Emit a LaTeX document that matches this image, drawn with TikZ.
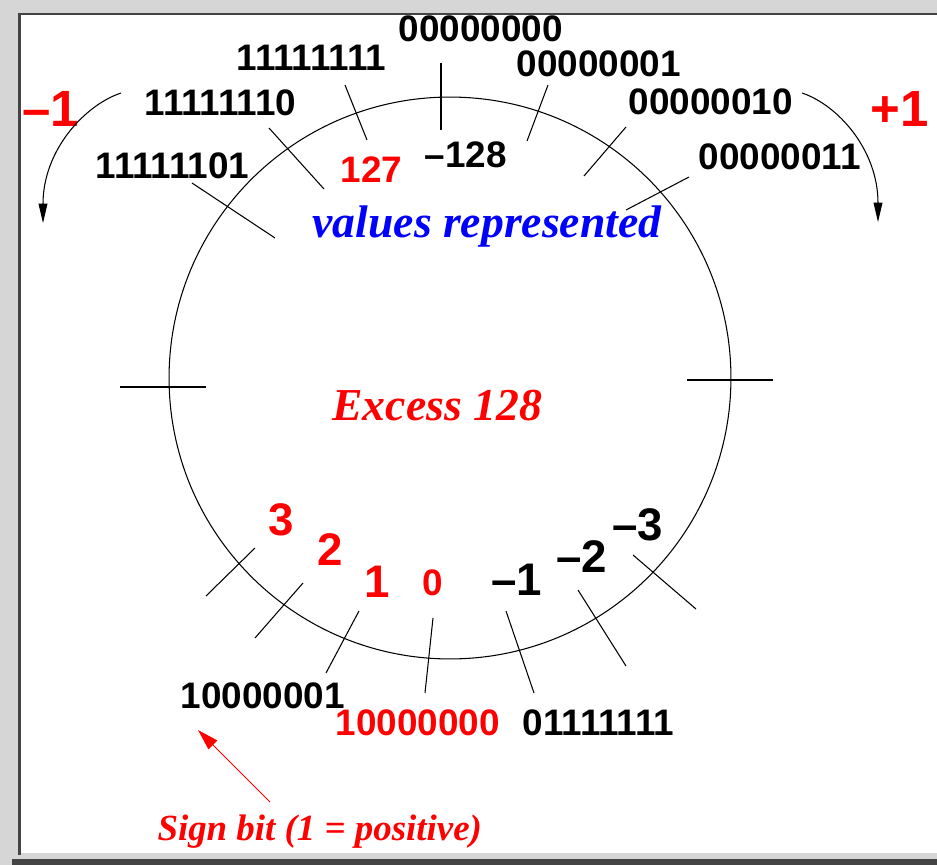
\documentclass[tikz,border=0pt]{standalone}
\usepackage{fontspec}
\usepackage{tikz}
\usetikzlibrary{arrows.meta}
\newfontfamily\digitfont{Liberation Sans}
\newfontfamily\notefont{Liberation Serif}
\definecolor{framegray}{HTML}{D6D6D6}
\definecolor{framedark}{HTML}{444444}

\begin{document}
\begin{tikzpicture}[x=0.02cm, y=-0.02cm, line width=0.6pt,
    bin/.style={font=\digitfont\bfseries\fontsize{21}{24}\selectfont, inner sep=0pt, anchor=base west},
    big/.style={font=\digitfont\bfseries\fontsize{26}{30}\selectfont, inner sep=0pt, anchor=base},
    note/.style={font=\notefont\bfseries\itshape\fontsize{26}{30}\selectfont, inner sep=0pt, anchor=base west},
    tick/.style={black, line width=0.6pt}]
    \useasboundingbox (0,0) rectangle (937,865);
    \fill[framegray] (0,0) rectangle (937,865);
    \fill[white] (21,15.5) rectangle (937,853);
    \fill[framedark] (18,13) rectangle (937,15.5);
    \fill[framedark] (18,13) rectangle (21,855);
    \fill[framedark] (12,859) rectangle (937,865);

    \node[circle, minimum size=11.24cm, draw, line width=0.6pt, inner sep=0pt] (wheel) at (450,378) {};

    \foreach \xa/\ya/\xb/\yb in {441/63/441/130, 345/85/367/140, 269/128/324/189, 192/183/275/238,
                       548/85/527/141, 626/127/584/176, 689/177/626/210,
                       120/387/206/387, 687/380/773/380,
                       255/548/206/596, 303/583/255/638, 359/611/326/673, 433/618/425/693,
                       506/611/534/693, 578/590/626/666, 633/555/696/609}
        \draw[tick] (\xa,\ya) -- (\xb,\yb);

    \node[bin] (b00) at (398,42) {00000000};
    \node[bin] (bff) at (236,71) {11111111};
    \node[bin] (b01) at (516,77) {00000001};
    \node[bin] (bfe) at (144,116) {11111110};
    \node[bin] (b02) at (628,115) {00000010};
    \node[bin] (bfd) at (95,178) {11111101};
    \node[bin] (b03) at (698,170) {00000011};
    \node[bin, red] (top127) at (340,182) {127};
    \node[bin] (topm128) at (424,168) {–128};

    \node[bin] (b81) at (180,708) {10000001};
    \node[bin, red] (b80) at (335,735) {10000000};
    \node[bin] (b7f) at (522,735) {01111111};

    \node[big, red] (d3) at (281,535) {3};
    \node[big, red] (d2) at (330,565) {2};
    \node[big, red] (d1) at (377,597) {1};
    \node[big, red, font=\digitfont\bfseries\fontsize{21}{24}\selectfont] (d0) at (433,595) {0};
    \node[big] (dm1) at (517,595) {–1};
    \node[big] (dm2) at (582,572) {–2};
    \node[big] (dm3) at (638,540) {–3};

    \node[big, red, font=\digitfont\bfseries\fontsize{29}{32}\selectfont] (minusone) at (51,127) {–1};
    \node[big, red, font=\digitfont\bfseries\fontsize{29}{32}\selectfont] (plusone) at (900,127) {+1};

    \node[note, blue] (vals) at (312,237) {values represented};
    \node[note, red] (excess) at (332,420) {Excess 128};
    \node[note, red, font=\notefont\bfseries\itshape\fontsize{21}{24}\selectfont] (signbit) at (157,840) {Sign bit (1 = positive)};

    \coordinate (decstart) at (121,93);
    \coordinate (decend) at (43,223);
    \coordinate (incstart) at (802,93);
    \coordinate (incend) at (878,222);
    \coordinate (signtail) at (270,802);
    \coordinate (signhead) at (198,730);

    \draw[-{Triangle[length=11pt, width=5pt]}] (decstart) .. controls (85,105) and (43,150) .. (decend);
    \draw[-{Triangle[length=11pt, width=5pt]}] (incstart) .. controls (838,105) and (878,150) .. (incend);
    \draw[red, -{Triangle[length=12pt, width=7pt]}] (signtail) -- (signhead);
\end{tikzpicture}
\end{document}
